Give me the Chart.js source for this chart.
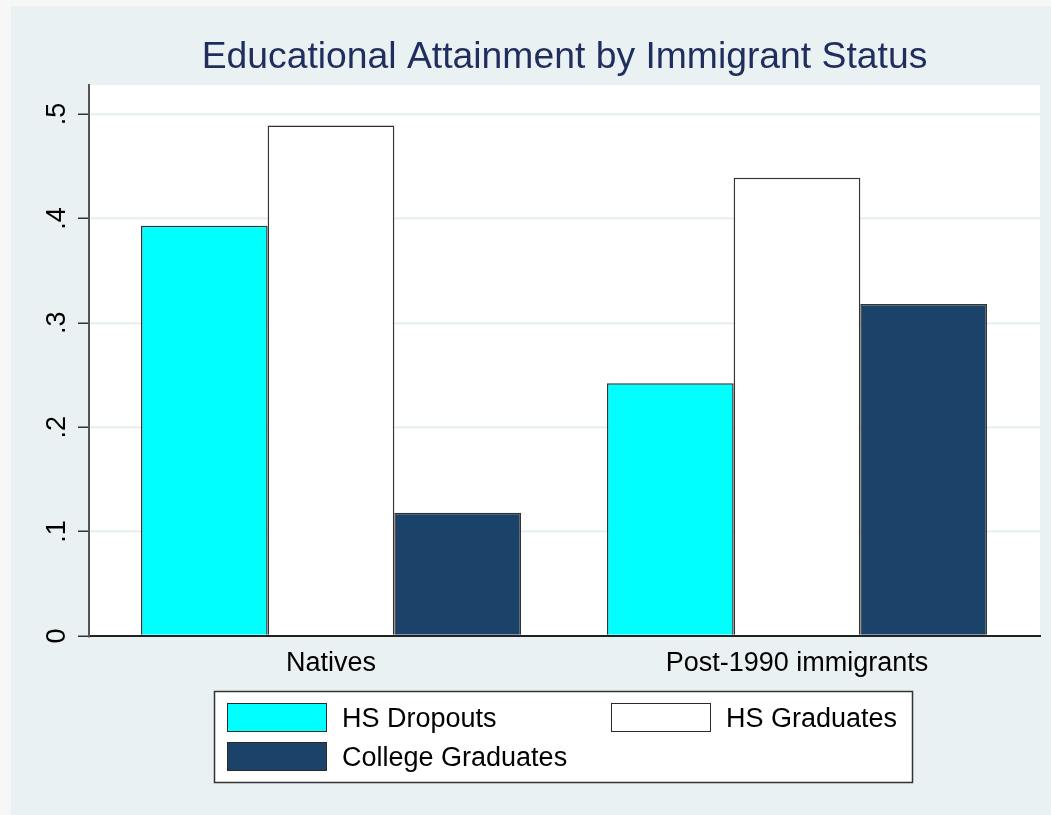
<!DOCTYPE html>
<html>
<head>
<meta charset="utf-8">
<script src="https://cdn.jsdelivr.net/npm/chart.js@4.4.1/dist/chart.umd.min.js"></script>
<style>
  html, body { margin: 0; padding: 0; background: #f7f7f7; }
  canvas { display: block; }
</style>
</head>
<body>
<canvas id="c" width="1051" height="815"></canvas>
<script>
// ---- data ----
const categories = ['Natives', 'Post-1990 immigrants'];
const seriesNames = ['HS Dropouts', 'HS Graduates', 'College Graduates'];
const hsDropouts = [0.393, 0.242];
const hsGraduates = [0.489, 0.439];
const collegeGraduates = [0.118, 0.318];
const yTicks = [0, 0.1, 0.2, 0.3, 0.4, 0.5];
const yTickLabels = ['0', '.1', '.2', '.3', '.4', '.5'];
const titleText = 'Educational Attainment by Immigrant Status';

const colors = ['#00FFFF', '#FFFFFF', '#1B436A'];
const FONT = "'Liberation Sans', Arial, Helvetica, sans-serif";

const seriesValues = [hsDropouts, hsGraduates, collegeGraduates];
const datasets = seriesNames.map((name, k) => ({
  label: name,
  data: categories.map((c, i) => ({ x: i, y: seriesValues[k][i] })),
  backgroundColor: colors[k],
  borderColor: '#333333',
  borderWidth: 1.5,
  categoryPercentage: 0.8155,
  barPercentage: 1.0
}));

const backgroundPlugin = {
  id: 'bgPlugin',
  beforeDraw(chart) {
    const ctx = chart.ctx, a = chart.chartArea;
    ctx.save();
    ctx.fillStyle = '#f7f7f7';
    ctx.fillRect(0, 0, chart.width, chart.height);
    ctx.fillStyle = '#EAF1F3';
    ctx.fillRect(11, 6, chart.width - 11, chart.height - 6);
    ctx.fillStyle = '#FFFFFF';
    ctx.fillRect(a.left, a.top, a.right - a.left, a.bottom - a.top);
    ctx.restore();
  }
};

const legendPlugin = {
  id: 'stataLegend',
  afterDraw(chart) {
    const ctx = chart.ctx;
    ctx.save();
    ctx.fillStyle = '#FFFFFF';
    ctx.fillRect(214, 691, 699, 92);
    ctx.strokeStyle = '#333333';
    ctx.lineWidth = 1.5;
    ctx.strokeRect(214.5, 691.5, 698, 91);
    const cols = [227, 611];
    const rows = [703, 742];
    chart.data.datasets.forEach((ds, k) => {
      const x = cols[k % 2], y = rows[Math.floor(k / 2)];
      ctx.fillStyle = ds.backgroundColor;
      ctx.fillRect(x, y, 99, 28);
      ctx.strokeStyle = '#2a2a2a';
      ctx.lineWidth = 1;
      ctx.strokeRect(x + 0.5, y + 0.5, 99, 28);
      ctx.fillStyle = '#000000';
      ctx.font = '27px ' + FONT;
      ctx.textBaseline = 'middle';
      ctx.textAlign = 'left';
      ctx.fillText(ds.label, x + 115, y + 16.5);
    });
    ctx.restore();
  }
};

new Chart(document.getElementById('c'), {
  type: 'bar',
  data: { datasets },
  plugins: [backgroundPlugin, legendPlugin],
  options: {
    responsive: false,
    animation: false,
    devicePixelRatio: 1,
    layout: { padding: { left: 0, right: 11, top: 0, bottom: 0 } },
    plugins: {
      legend: { display: false },
      tooltip: { enabled: false },
      title: {
        display: true,
        text: titleText,
        fullSize: false,
        color: '#1F2E5C',
        font: { family: FONT, size: 37.3, weight: 'normal' },
        padding: { top: 35, bottom: 5.2 }
      }
    },
    scales: {
      x: {
        type: 'linear',
        offset: false,
        min: -0.5193,
        max: 1.5215,
        grid: { display: false, drawTicks: false },
        border: { display: true, color: '#222222', width: 2 },
        afterBuildTicks(scale) { scale.ticks = categories.map((c, i) => ({ value: i })); },
        afterFit(scale) { scale.height = 179; },
        ticks: {
          autoSkip: false,
          maxRotation: 0,
          padding: 11.5,
          color: '#000000',
          font: { family: FONT, size: 27 },
          callback: (v) => categories[Math.round(v)]
        }
      },
      y: {
        min: 0,
        max: 0.5278,
        grid: { color: '#EAF1F3', lineWidth: 2.5, tickColor: '#333333', tickLength: 11, tickWidth: 1.5 },
        border: { display: true, color: '#555555', width: 2 },
        afterBuildTicks(scale) { scale.ticks = yTicks.map(v => ({ value: v })); },
        afterFit(scale) { scale.width = 89; },
        ticks: {
          minRotation: 90,
          maxRotation: 90,
          crossAlign: 'center',
          padding: 9,
          color: '#000000',
          font: { family: FONT, size: 27 },
          callback: (v, i) => yTickLabels[yTicks.indexOf(v)] ?? ''
        }
      }
    }
  }
});
</script>
</body>
</html>
